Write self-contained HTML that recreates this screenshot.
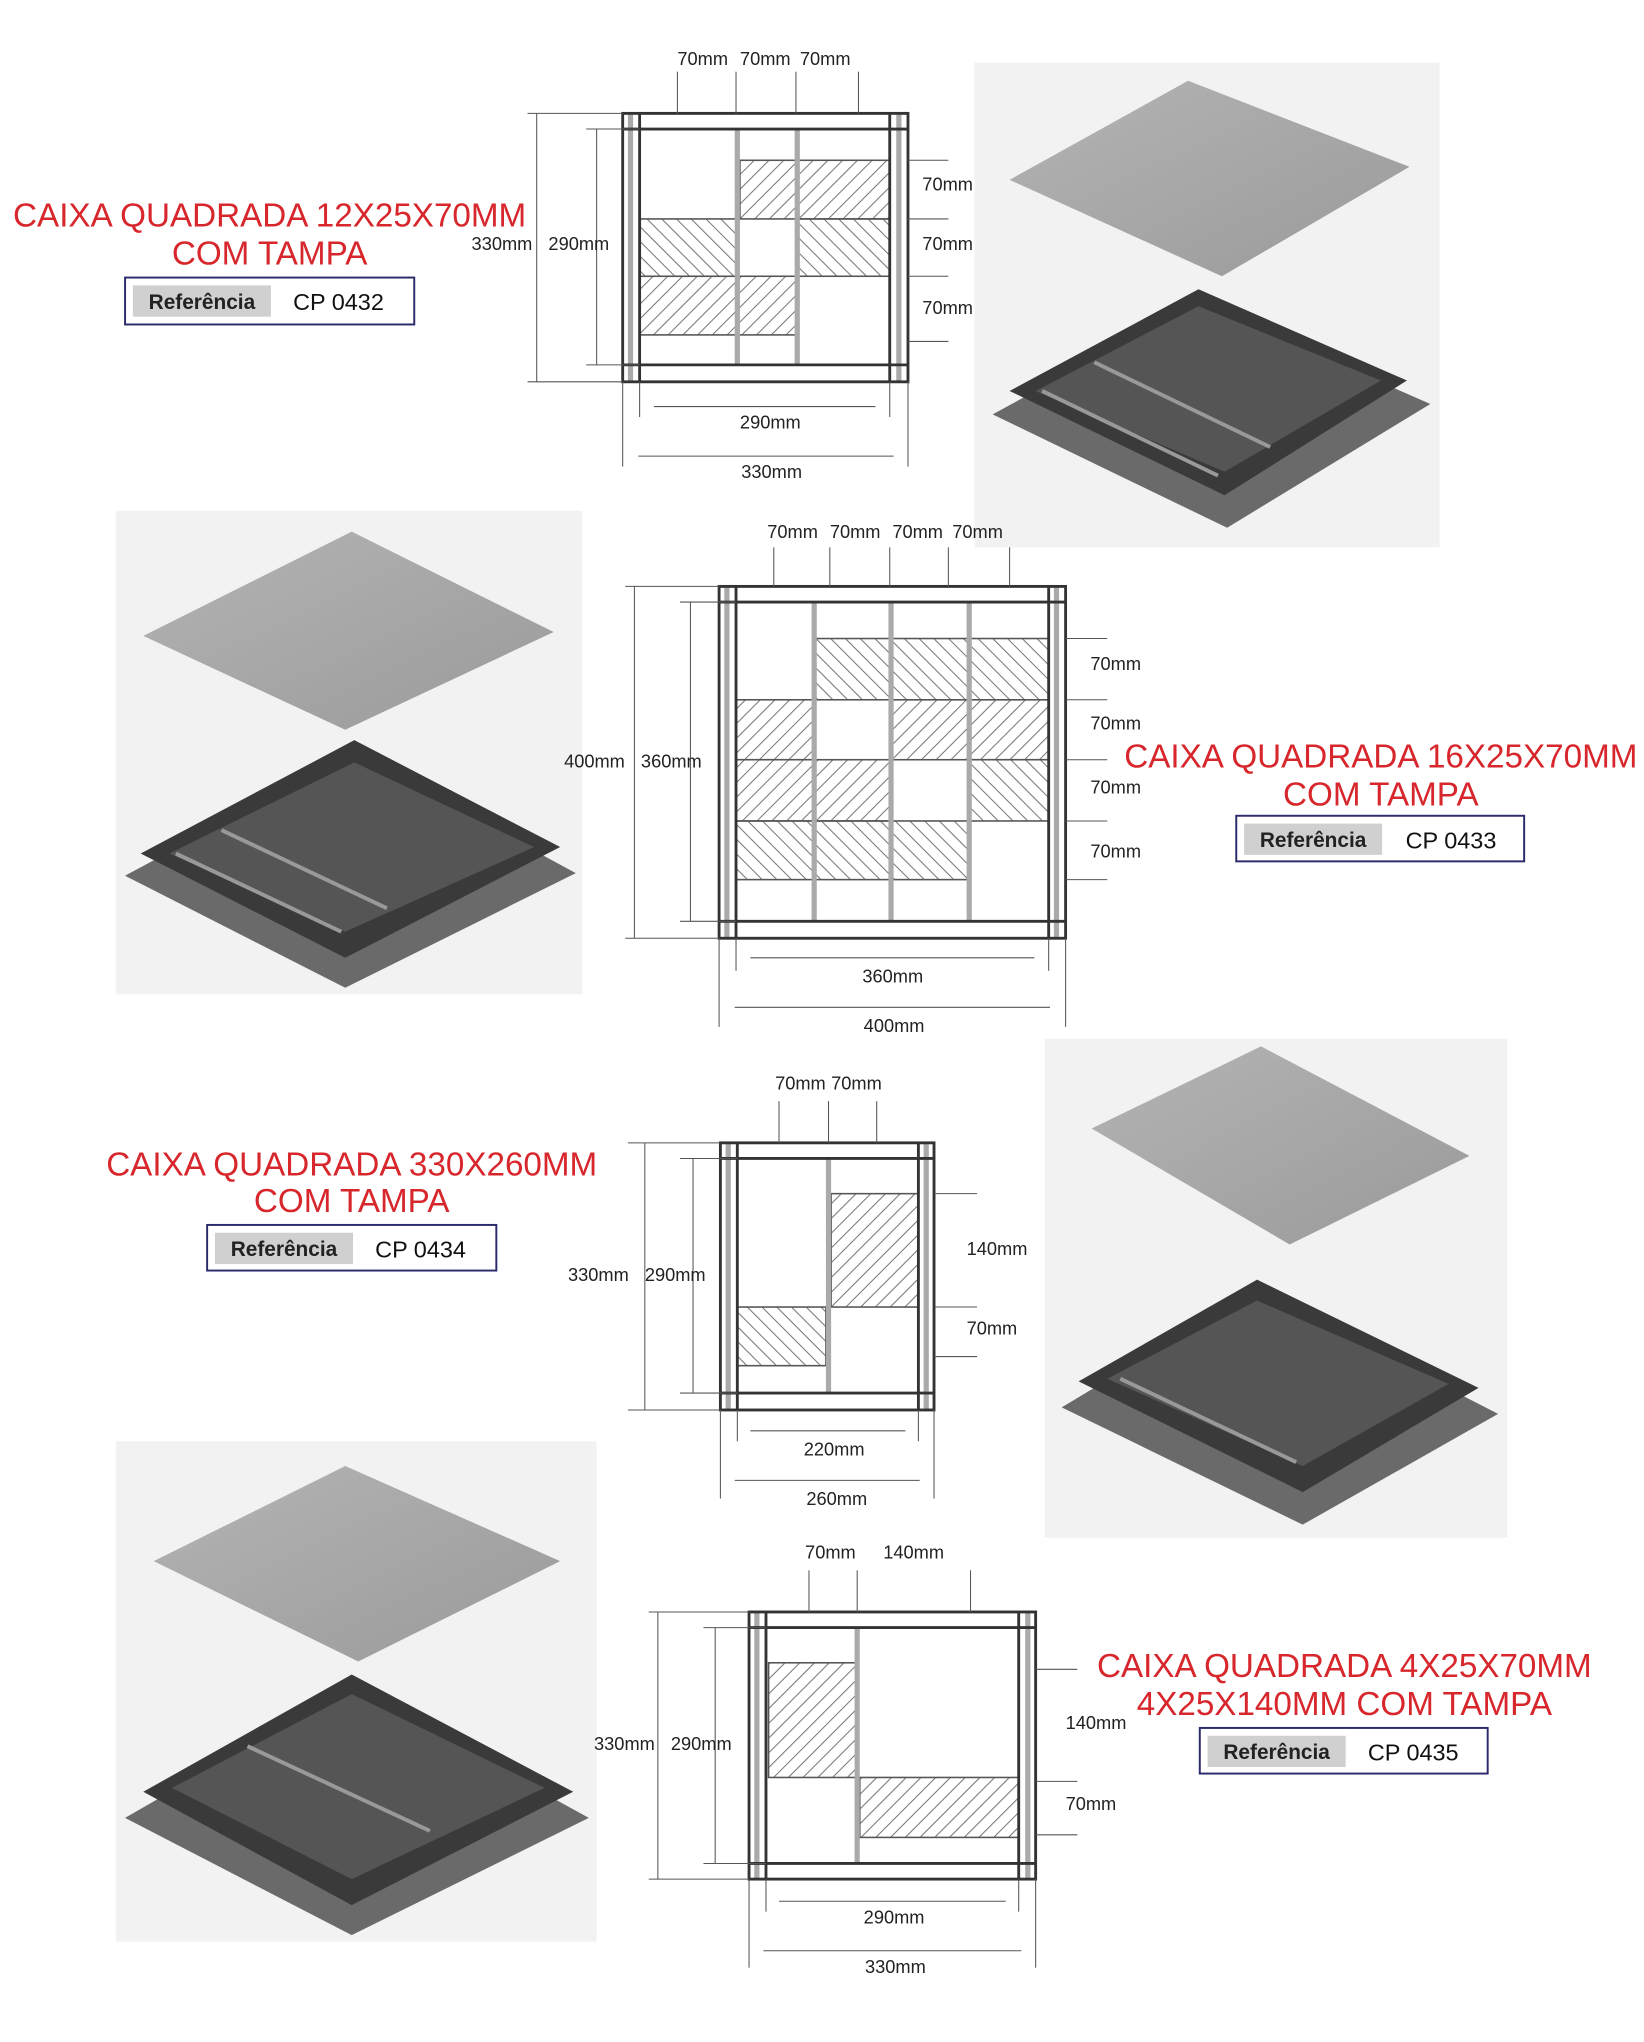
<!DOCTYPE html>
<html><head><meta charset="utf-8"><style>
html,body{margin:0;padding:0;background:#fff;}
svg{display:block;}
.t{font-family:"Liberation Sans",sans-serif;fill:#d7262c;font-size:25.5px;text-anchor:middle;}
.d{font-family:"Liberation Sans",sans-serif;fill:#222;font-size:14px;}
.r{font-family:"Liberation Sans",sans-serif;font-size:18px;fill:#111;}
.rb{font-family:"Liberation Sans",sans-serif;font-size:16px;font-weight:bold;fill:#222;}
.f{fill:none;stroke:#333;stroke-width:2.2;}
.g{stroke:#aaa;stroke-width:4;}
.l{stroke:#555;stroke-width:0.8;fill:none;}
.h{fill:url(#hr);stroke:#555;stroke-width:1.2;}
.h2{fill:url(#hl);stroke:#555;stroke-width:1.2;}
.rail{stroke:#999;stroke-width:3;}
</style></head><body>
<svg width="1644" height="2042" viewBox="0 0 1262 1567" preserveAspectRatio="none" xmlns="http://www.w3.org/2000/svg">
<defs>
<pattern id="hr" width="8" height="8" patternUnits="userSpaceOnUse" patternTransform="rotate(45)"><line x1="0" y1="0" x2="0" y2="8" stroke="#777" stroke-width="1.6"/></pattern>
<pattern id="hl" width="8" height="8" patternUnits="userSpaceOnUse" patternTransform="rotate(-45)"><line x1="0" y1="0" x2="0" y2="8" stroke="#777" stroke-width="1.6"/></pattern>
<linearGradient id="lid" x1="0" y1="0" x2="1" y2="1"><stop offset="0" stop-color="#b4b4b4"/><stop offset="1" stop-color="#9a9a9a"/></linearGradient>
</defs>

<!-- ===== Section 1 ===== -->
<text class="t" x="207" y="174">CAIXA QUADRADA 12X25X70MM</text>
<text class="t" x="207" y="203">COM TAMPA</text>
<rect x="96" y="213" width="222" height="36" fill="#fff" stroke="#2b2b6b" stroke-width="1.5"/>
<rect x="102" y="219" width="106" height="24" fill="#d0d0d0"/>
<text class="rb" x="155" y="237" text-anchor="middle">Referência</text>
<text class="r" x="225" y="238">CP 0432</text>

<g>
<rect x="568" y="123" width="43" height="45" class="h"/>
<rect x="613" y="123" width="70" height="45" class="h"/>
<rect x="491" y="168" width="74" height="44" class="h2"/>
<rect x="613" y="168" width="70" height="44" class="h2"/>
<rect x="491" y="212" width="74" height="45" class="h"/>
<rect x="565" y="212" width="46" height="45" class="h"/>
<line x1="566" y1="99" x2="566" y2="280" class="g"/>
<line x1="612" y1="99" x2="612" y2="280" class="g"/>
<line x1="484" y1="87" x2="484" y2="293" class="g"/>
<line x1="690" y1="87" x2="690" y2="293" class="g"/>
<rect x="478" y="87" width="219" height="206" class="f"/>
<line x1="478" y1="99" x2="697" y2="99" class="f"/><line x1="478" y1="280" x2="697" y2="280" class="f"/>
<line x1="491" y1="87" x2="491" y2="293" class="f"/><line x1="683" y1="87" x2="683" y2="293" class="f"/>
<g class="l"><line x1="520" y1="55" x2="520" y2="87"/><line x1="565" y1="55" x2="565" y2="87"/><line x1="611" y1="55" x2="611" y2="87"/><line x1="659" y1="55" x2="659" y2="87"/>
<line x1="697" y1="123" x2="728" y2="123"/><line x1="697" y1="168" x2="728" y2="168"/><line x1="697" y1="212" x2="728" y2="212"/><line x1="697" y1="262" x2="728" y2="262"/>
<line x1="412" y1="87" x2="412" y2="293"/><line x1="405" y1="87" x2="478" y2="87"/><line x1="405" y1="293" x2="478" y2="293"/>
<line x1="458" y1="99" x2="458" y2="280"/><line x1="450" y1="99" x2="491" y2="99"/><line x1="450" y1="280" x2="491" y2="280"/>
<line x1="491" y1="293" x2="491" y2="320"/><line x1="683" y1="293" x2="683" y2="320"/><line x1="502" y1="312" x2="672" y2="312"/>
<line x1="478" y1="293" x2="478" y2="358"/><line x1="697" y1="293" x2="697" y2="358"/><line x1="490" y1="350" x2="686" y2="350"/></g>
<text class="d" x="520" y="50">70mm</text><text class="d" x="568" y="50">70mm</text><text class="d" x="614" y="50">70mm</text>
<text class="d" x="708" y="146">70mm</text><text class="d" x="708" y="192">70mm</text><text class="d" x="708" y="241">70mm</text>
<text class="d" x="362" y="192">330mm</text><text class="d" x="421" y="192">290mm</text>
<text class="d" x="568" y="329">290mm</text><text class="d" x="569" y="367">330mm</text>
</g>

<!-- photo 1 -->
<rect x="748" y="48" width="357" height="372" fill="#f2f2f2"/>
<polygon points="775,138 912,62 1082,128 938,212" fill="url(#lid)"/>
<polygon points="762,318 920,232 1098,310 942,405" fill="#6a6a6a"/>
<polygon points="775,300 920,222 1080,292 940,380" fill="#3a3a3a"/>
<polygon points="795,300 920,235 1060,292 940,362" fill="#555"/>
<line x1="800" y1="300" x2="935" y2="365" class="rail"/><line x1="840" y1="278" x2="975" y2="343" class="rail"/>

<!-- ===== Section 2 ===== -->
<rect x="89" y="392" width="358" height="371" fill="#f2f2f2"/>
<polygon points="110,488 270,408 425,485 265,560" fill="url(#lid)"/>
<polygon points="96,672 272,578 442,670 265,758" fill="#6a6a6a"/>
<polygon points="108,655 272,568 430,650 265,735" fill="#3a3a3a"/>
<polygon points="130,655 272,585 410,650 265,715" fill="#555"/>
<line x1="135" y1="655" x2="262" y2="715" class="rail"/><line x1="170" y1="637" x2="297" y2="697" class="rail"/>

<g>
<rect x="625" y="490" width="59" height="47" class="h2"/><rect x="684" y="490" width="60" height="47" class="h2"/><rect x="744" y="490" width="61" height="47" class="h2"/>
<rect x="565" y="537" width="60" height="46" class="h"/><rect x="684" y="537" width="60" height="46" class="h"/><rect x="744" y="537" width="61" height="46" class="h"/>
<rect x="565" y="583" width="60" height="47" class="h"/><rect x="625" y="583" width="59" height="47" class="h"/><rect x="744" y="583" width="61" height="47" class="h2"/>
<rect x="565" y="630" width="60" height="45" class="h2"/><rect x="625" y="630" width="59" height="45" class="h2"/><rect x="684" y="630" width="60" height="45" class="h2"/>
<line x1="625" y1="462" x2="625" y2="707" class="g"/><line x1="684" y1="462" x2="684" y2="707" class="g"/><line x1="744" y1="462" x2="744" y2="707" class="g"/>
<line x1="558" y1="450" x2="558" y2="720" class="g"/><line x1="811" y1="450" x2="811" y2="720" class="g"/>
<rect x="552" y="450" width="266" height="270" class="f"/>
<line x1="552" y1="462" x2="818" y2="462" class="f"/><line x1="552" y1="707" x2="818" y2="707" class="f"/>
<line x1="565" y1="450" x2="565" y2="720" class="f"/><line x1="805" y1="450" x2="805" y2="720" class="f"/>
<g class="l"><line x1="594" y1="420" x2="594" y2="450"/><line x1="637" y1="420" x2="637" y2="450"/><line x1="683" y1="420" x2="683" y2="450"/><line x1="728" y1="420" x2="728" y2="450"/><line x1="775" y1="420" x2="775" y2="450"/>
<line x1="818" y1="490" x2="850" y2="490"/><line x1="818" y1="537" x2="850" y2="537"/><line x1="818" y1="583" x2="850" y2="583"/><line x1="818" y1="630" x2="850" y2="630"/><line x1="818" y1="675" x2="850" y2="675"/>
<line x1="487" y1="450" x2="487" y2="720"/><line x1="480" y1="450" x2="552" y2="450"/><line x1="480" y1="720" x2="552" y2="720"/>
<line x1="530" y1="462" x2="530" y2="707"/><line x1="522" y1="462" x2="565" y2="462"/><line x1="522" y1="707" x2="565" y2="707"/>
<line x1="565" y1="720" x2="565" y2="745"/><line x1="805" y1="720" x2="805" y2="745"/><line x1="576" y1="735" x2="794" y2="735"/>
<line x1="552" y1="720" x2="552" y2="788"/><line x1="818" y1="720" x2="818" y2="788"/><line x1="564" y1="773" x2="806" y2="773"/></g>
<text class="d" x="589" y="413">70mm</text><text class="d" x="637" y="413">70mm</text><text class="d" x="685" y="413">70mm</text><text class="d" x="731" y="413">70mm</text>
<text class="d" x="837" y="514">70mm</text><text class="d" x="837" y="560">70mm</text><text class="d" x="837" y="609">70mm</text><text class="d" x="837" y="658">70mm</text>
<text class="d" x="433" y="589">400mm</text><text class="d" x="492" y="589">360mm</text>
<text class="d" x="662" y="754">360mm</text><text class="d" x="663" y="792">400mm</text>
</g>
<text class="t" x="1060" y="589">CAIXA QUADRADA 16X25X70MM</text>
<text class="t" x="1060" y="618">COM TAMPA</text>
<rect x="949" y="626" width="221" height="35" fill="#fff" stroke="#2b2b6b" stroke-width="1.5"/>
<rect x="955" y="632" width="106" height="24" fill="#d0d0d0"/>
<text class="rb" x="1008" y="650" text-anchor="middle">Referência</text>
<text class="r" x="1079" y="651">CP 0433</text>

<!-- ===== Section 3 ===== -->
<text class="t" x="270" y="902">CAIXA QUADRADA 330X260MM</text>
<text class="t" x="270" y="930">COM TAMPA</text>
<rect x="159" y="940" width="222" height="35" fill="#fff" stroke="#2b2b6b" stroke-width="1.5"/>
<rect x="165" y="946" width="106" height="24" fill="#d0d0d0"/>
<text class="rb" x="218" y="964" text-anchor="middle">Referência</text>
<text class="r" x="288" y="965">CP 0434</text>
<g>
<rect x="638" y="916" width="67" height="87" class="h"/>
<rect x="566" y="1003" width="68" height="45" class="h2"/>
<line x1="636" y1="889" x2="636" y2="1069" class="g"/>
<line x1="559" y1="877" x2="559" y2="1082" class="g"/><line x1="711" y1="877" x2="711" y2="1082" class="g"/>
<rect x="553" y="877" width="164" height="205" class="f"/>
<line x1="553" y1="889" x2="717" y2="889" class="f"/><line x1="553" y1="1069" x2="717" y2="1069" class="f"/>
<line x1="566" y1="877" x2="566" y2="1082" class="f"/><line x1="705" y1="877" x2="705" y2="1082" class="f"/>
<g class="l"><line x1="598" y1="845" x2="598" y2="877"/><line x1="636" y1="845" x2="636" y2="877"/><line x1="673" y1="845" x2="673" y2="877"/>
<line x1="717" y1="916" x2="750" y2="916"/><line x1="717" y1="1003" x2="750" y2="1003"/><line x1="717" y1="1041" x2="750" y2="1041"/>
<line x1="495" y1="877" x2="495" y2="1082"/><line x1="482" y1="877" x2="553" y2="877"/><line x1="482" y1="1082" x2="553" y2="1082"/>
<line x1="532" y1="889" x2="532" y2="1069"/><line x1="522" y1="889" x2="566" y2="889"/><line x1="522" y1="1069" x2="566" y2="1069"/>
<line x1="566" y1="1082" x2="566" y2="1106"/><line x1="705" y1="1082" x2="705" y2="1106"/><line x1="576" y1="1098" x2="695" y2="1098"/>
<line x1="553" y1="1082" x2="553" y2="1150"/><line x1="717" y1="1082" x2="717" y2="1150"/><line x1="564" y1="1136" x2="706" y2="1136"/></g>
<text class="d" x="595" y="836">70mm</text><text class="d" x="638" y="836">70mm</text>
<text class="d" x="742" y="963">140mm</text><text class="d" x="742" y="1024">70mm</text>
<text class="d" x="436" y="983">330mm</text><text class="d" x="495" y="983">290mm</text>
<text class="d" x="617" y="1117">220mm</text><text class="d" x="619" y="1155">260mm</text>
</g>
<rect x="802" y="797" width="355" height="383" fill="#f2f2f2"/>
<polygon points="838,866 968,803 1128,887 990,955" fill="url(#lid)"/>
<polygon points="815,1080 965,990 1150,1085 1000,1170" fill="#6a6a6a"/>
<polygon points="828,1060 965,982 1135,1065 1000,1145" fill="#3a3a3a"/>
<polygon points="850,1058 965,998 1112,1062 1000,1125" fill="#555"/>
<line x1="860" y1="1058" x2="995" y2="1122" class="rail"/>

<!-- ===== Section 4 ===== -->
<rect x="89" y="1106" width="369" height="384" fill="#f2f2f2"/>
<polygon points="118,1198 265,1125 430,1198 275,1275" fill="url(#lid)"/>
<polygon points="96,1395 270,1295 452,1395 270,1485" fill="#6a6a6a"/>
<polygon points="110,1375 270,1285 440,1375 270,1462" fill="#3a3a3a"/>
<polygon points="132,1372 270,1300 418,1372 270,1442" fill="#555"/>
<line x1="190" y1="1340" x2="330" y2="1405" class="rail"/>

<g>
<rect x="590" y="1276" width="67" height="88" class="h"/>
<rect x="660" y="1364" width="122" height="46" class="h"/>
<line x1="658" y1="1249" x2="658" y2="1430" class="g"/>
<line x1="581" y1="1237" x2="581" y2="1442" class="g"/><line x1="789" y1="1237" x2="789" y2="1442" class="g"/>
<rect x="575" y="1237" width="220" height="205" class="f"/>
<line x1="575" y1="1249" x2="795" y2="1249" class="f"/><line x1="575" y1="1430" x2="795" y2="1430" class="f"/>
<line x1="588" y1="1237" x2="588" y2="1442" class="f"/><line x1="782" y1="1237" x2="782" y2="1442" class="f"/>
<g class="l"><line x1="621" y1="1205" x2="621" y2="1237"/><line x1="658" y1="1205" x2="658" y2="1237"/><line x1="745" y1="1205" x2="745" y2="1237"/>
<line x1="795" y1="1281" x2="827" y2="1281"/><line x1="795" y1="1367" x2="827" y2="1367"/><line x1="795" y1="1408" x2="827" y2="1408"/>
<line x1="505" y1="1237" x2="505" y2="1442"/><line x1="498" y1="1237" x2="575" y2="1237"/><line x1="498" y1="1442" x2="575" y2="1442"/>
<line x1="549" y1="1249" x2="549" y2="1430"/><line x1="540" y1="1249" x2="588" y2="1249"/><line x1="540" y1="1430" x2="588" y2="1430"/>
<line x1="588" y1="1442" x2="588" y2="1467"/><line x1="782" y1="1442" x2="782" y2="1467"/><line x1="598" y1="1459" x2="772" y2="1459"/>
<line x1="575" y1="1442" x2="575" y2="1510"/><line x1="795" y1="1442" x2="795" y2="1510"/><line x1="586" y1="1497" x2="784" y2="1497"/></g>
<text class="d" x="618" y="1196">70mm</text><text class="d" x="678" y="1196">140mm</text>
<text class="d" x="818" y="1327">140mm</text><text class="d" x="818" y="1389">70mm</text>
<text class="d" x="456" y="1343">330mm</text><text class="d" x="515" y="1343">290mm</text>
<text class="d" x="663" y="1476">290mm</text><text class="d" x="664" y="1514">330mm</text>
</g>
<text class="t" x="1032" y="1287">CAIXA QUADRADA 4X25X70MM</text>
<text class="t" x="1032" y="1316">4X25X140MM COM TAMPA</text>
<rect x="921" y="1326" width="221" height="35" fill="#fff" stroke="#2b2b6b" stroke-width="1.5"/>
<rect x="927" y="1332" width="106" height="24" fill="#d0d0d0"/>
<text class="rb" x="980" y="1350" text-anchor="middle">Referência</text>
<text class="r" x="1050" y="1351">CP 0435</text>
</svg>
</body></html>
